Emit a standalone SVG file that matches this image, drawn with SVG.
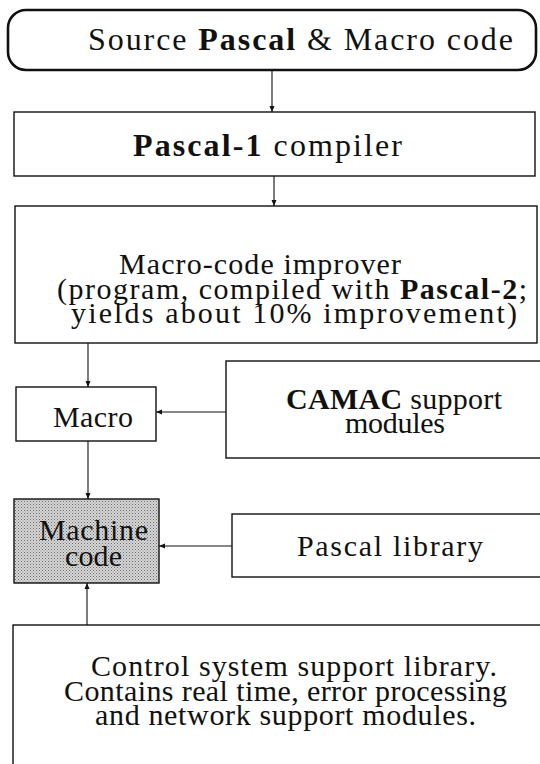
<svg xmlns="http://www.w3.org/2000/svg" width="540" height="764" viewBox="0 0 540 764">
<defs>
<style>
.box{fill:#fff;stroke:#111;stroke-width:1.4}
.rbox{fill:#fff;stroke:#111;stroke-width:2.6}
.t{font-family:"Liberation Serif","DejaVu Serif",serif;font-size:30px;fill:#111}
.big{font-size:32px}
.b{font-weight:bold}
.c{fill:none;stroke:#111;stroke-width:1.1}
</style>
<marker id="ah" markerUnits="userSpaceOnUse" markerWidth="8" markerHeight="8" refX="6" refY="3" orient="auto">
<path d="M0,0.5 L6,3 L0,5.5 Z" fill="#111"/>
</marker>
<pattern id="dots" width="3" height="3" patternUnits="userSpaceOnUse">
<rect width="3" height="3" fill="#d6d6d6"/>
<rect x="0" y="0" width="1" height="1" fill="#6a6a6a"/>
<rect x="1.5" y="1.5" width="1" height="1" fill="#8a8a8a"/>
</pattern>
</defs>
<g id="source">
<rect class="rbox" x="8" y="10" width="528" height="60" rx="18"/>
<text class="t big" x="88" y="50" textLength="425" lengthAdjust="spacing">Source  <tspan class="b">Pascal</tspan> &amp; Macro code</text>
</g>
<g id="pascal1">
<rect class="box" x="14" y="112" width="521" height="64"/>
<text class="t big" x="133" y="156" textLength="269" lengthAdjust="spacing"><tspan class="b">Pascal-1</tspan> compiler</text>
</g>
<g id="improver">
<rect class="box" x="15" y="206" width="522" height="137"/>
<text class="t" x="119" y="274" textLength="282" lengthAdjust="spacing">Macro-code improver</text>
<text class="t" x="57" y="299" textLength="470" lengthAdjust="spacing">(program, compiled with <tspan class="b">Pascal-2</tspan>;</text>
<text class="t" x="71" y="323" textLength="446" lengthAdjust="spacing">yields  about  10% improvement)</text>
</g>
<g id="macro">
<rect class="box" x="16" y="387" width="140" height="54"/>
<text class="t" x="53" y="427" textLength="80" lengthAdjust="spacing">Macro</text>
</g>
<g id="camac">
<rect class="box" x="226" y="361" width="320" height="97"/>
<text class="t" x="286" y="409" textLength="216" lengthAdjust="spacing"><tspan class="b">CAMAC</tspan> support</text>
<text class="t" x="345" y="433" textLength="100" lengthAdjust="spacing">modules</text>
</g>
<g id="machine">
<rect x="14" y="499" width="145" height="84" fill="url(#dots)" stroke="#111" stroke-width="1.4"/>
<text class="t" x="39" y="540" textLength="109" lengthAdjust="spacing">Machine</text>
<text class="t" x="65" y="566" textLength="57" lengthAdjust="spacing">code</text>
</g>
<g id="pascallib">
<rect class="box" x="232" y="514" width="315" height="63"/>
<text class="t" x="297" y="556" textLength="186" lengthAdjust="spacing">Pascal  library</text>
</g>
<g id="control">
<rect class="box" x="13" y="625" width="535" height="150"/>
<text class="t" x="91" y="676" textLength="406" lengthAdjust="spacing">Control system support library.</text>
<text class="t" x="64" y="701" textLength="443" lengthAdjust="spacing">Contains real time, error processing</text>
<text class="t" x="95" y="725" textLength="381" lengthAdjust="spacing">and network support modules.</text>
</g>
<g id="connectors">
<line class="c" x1="272" y1="70" x2="272" y2="112" marker-end="url(#ah)"/>
<line class="c" x1="274" y1="176" x2="274" y2="206" marker-end="url(#ah)"/>
<line class="c" x1="88" y1="343" x2="88" y2="387" marker-end="url(#ah)"/>
<line class="c" x1="226" y1="412" x2="156" y2="412" marker-end="url(#ah)"/>
<line class="c" x1="88" y1="441" x2="88" y2="499" marker-end="url(#ah)"/>
<line class="c" x1="232" y1="546" x2="159" y2="546" marker-end="url(#ah)"/>
<line class="c" x1="87" y1="625" x2="87" y2="583" marker-end="url(#ah)"/>
</g>
</svg>
